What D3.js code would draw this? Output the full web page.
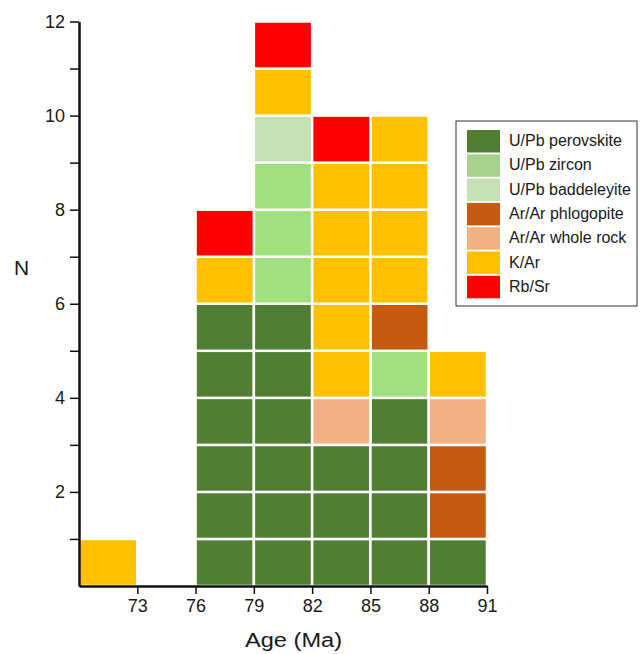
<!DOCTYPE html>
<html>
<head>
<meta charset="utf-8">
<script src="https://cdn.jsdelivr.net/npm/d3@7"></script>
<style>
  body { margin: 0; background: #fff; }
  svg text { font-family: "Liberation Sans", Arial, sans-serif; fill: #1a1a1a; }
</style>
</head>
<body>
<div id="chart"></div>
<script>
// bin start ages (Ma), each bin is 3 Ma wide
var binStarts = [70, 73, 76, 79, 82, 85, 88];
var binWidth = 3;

var methods = ["U/Pb perovskite", "U/Pb zircon", "U/Pb baddeleyite", "Ar/Ar phlogopite", "Ar/Ar whole rock", "K/Ar", "Rb/Sr"];
var perovskite  = [0, 0, 6, 6, 3, 4, 1];
var zircon      = [0, 0, 0, 3, 0, 1, 0];
var baddeleyite = [0, 0, 0, 1, 0, 0, 0];
var phlogopite  = [0, 0, 0, 0, 0, 1, 2];
var wholeRock   = [0, 0, 0, 0, 1, 0, 1];
var kar         = [1, 0, 1, 1, 5, 4, 1];
var rbsr        = [0, 0, 1, 1, 1, 0, 0];

var xTicks = [73, 76, 79, 82, 85, 88, 91];
var yTicks = [2, 4, 6, 8, 10, 12];
var yMinorTicks = [1, 3, 5, 7, 9, 11];

var cellColors   = ["#507e32", "#a0e07f", "#c5e0b4", "#c55a11", "#f4b183", "#ffc000", "#ff0000"];
var legendColors = ["#507e32", "#a9d18e", "#c5e0b4", "#c55a11", "#f4b183", "#ffc000", "#ff0000"];

(function () {
  'use strict'

  var seriesArr = [perovskite, zircon, baddeleyite, phlogopite, wholeRock, kar, rbsr];
  var rows = binStarts.map(function (b, i) {
    var r = { start: b };
    methods.forEach(function (m, k) { r[m] = seriesArr[k][i]; });
    return r;
  });

  var margin = { top: 21.5, left: 79, right: 154, bottom: 68 };
  var W = 641, H = 654;
  var width = W - margin.left - margin.right,
      height = H - margin.top - margin.bottom;

  var x = d3.scaleLinear().domain([70, 91]).range([0, width]);
  var y = d3.scaleLinear().domain([0, 12]).range([height, 0]);

  var svg = d3.select("#chart").append("svg")
      .attr("width", W).attr("height", H)
    .append("g")
      .attr("transform", "translate(" + margin.left + "," + margin.top + ")");

  var stacked = d3.stack().keys(methods)(rows);

  // split every stacked segment into unit cells
  var cells = [];
  stacked.forEach(function (layer, k) {
    layer.forEach(function (seg) {
      for (var n = seg[0]; n < seg[1]; n++) {
        cells.push({ start: seg.data.start, lo: n, hi: n + 1, k: k });
      }
    });
  });

  svg.append("g").selectAll("rect")
    .data(cells)
    .enter().append("rect")
      .attr("x", function (d) { return x(d.start); })
      .attr("y", function (d) { return y(d.hi); })
      .attr("width", function (d) { return x(d.start + binWidth) - x(d.start); })
      .attr("height", function (d) { return y(d.lo) - y(d.hi); })
      .attr("fill", function (d) { return cellColors[d.k]; })
      .attr("stroke", "#fff")
      .attr("stroke-width", 2.5);

  // axes
  var xAxis = svg.append("g")
      .attr("transform", "translate(0," + height + ")")
      .call(d3.axisBottom(x).tickValues(xTicks).tickSize(8).tickPadding(5).tickSizeOuter(0));
  xAxis.select(".domain").attr("stroke-width", 2.5).attr("stroke", "#111");
  xAxis.selectAll(".tick line").attr("stroke-width", 1.5).attr("stroke", "#111");
  xAxis.selectAll(".tick text").style("font-size", "18px").attr("fill", "#1a1a1a");

  var yAxis = svg.append("g")
      .call(d3.axisLeft(y).tickValues(yTicks).tickSize(9).tickPadding(5).tickSizeOuter(0));
  yAxis.select(".domain").attr("stroke-width", 2.5).attr("stroke", "#111");
  yAxis.selectAll(".tick line").attr("stroke-width", 1.5).attr("stroke", "#111");
  yAxis.selectAll(".tick text").style("font-size", "18px").attr("fill", "#1a1a1a");

  var yMinor = svg.append("g")
      .call(d3.axisLeft(y).tickValues(yMinorTicks).tickSize(9).tickFormat(""));
  yMinor.select(".domain").remove();
  yMinor.selectAll(".tick line").attr("stroke-width", 1.5).attr("stroke", "#111");

  svg.append("text")
      .attr("x", 166)
      .attr("y", height + 61)
      .attr("textLength", 97)
      .attr("lengthAdjust", "spacingAndGlyphs")
      .style("font-size", "20px")
      .text("Age (Ma)");

  svg.append("text")
      .attr("x", -57.5)
      .attr("y", 253)
      .attr("text-anchor", "middle")
      .style("font-size", "21px")
      .text("N");

  // legend
  var lg = d3.select("#chart svg").append("g").attr("transform", "translate(456,121)");
  lg.append("rect")
      .attr("width", 181).attr("height", 185)
      .attr("fill", "#fff").attr("stroke", "#333").attr("stroke-width", 1);
  var item = lg.selectAll(".lgItem")
    .data(methods)
    .enter().append("g")
      .attr("class", "lgItem")
      .attr("transform", function (d, i) { return "translate(11," + (9 + i * 24.3) + ")"; });
  item.append("rect")
      .attr("width", 33).attr("height", 22.5)
      .attr("fill", function (d, i) { return legendColors[i]; });
  item.append("text")
      .attr("x", 42).attr("y", 16)
      .style("font-size", "16px")
      .text(function (d) { return d; });
})()
</script>
</body>
</html>
